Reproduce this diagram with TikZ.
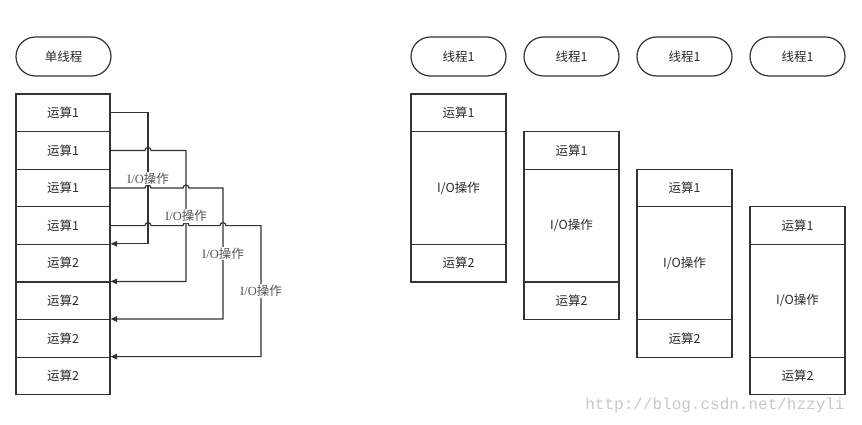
\documentclass[tikz,border=0pt]{standalone}
\usepackage{fontspec}
\setmainfont{Liberation Serif}
\newfontfamily\cjk{Noto Sans CJK SC}
\newfontfamily\wmfont{Liberation Mono}
\usetikzlibrary{arrows.meta,calc}
\definecolor{ln}{HTML}{333333}
\definecolor{tx}{HTML}{2A2A2A}
\definecolor{lab}{HTML}{555555}
\definecolor{wm}{HTML}{C8C8C8}
\begin{document}
\begin{tikzpicture}[x=1pt,y=1pt,
  box/.style={draw=ln, line width=1.2pt, minimum width=94pt, minimum height=37.6pt, inner sep=0pt, text=tx, font=\cjk\fontsize{12.5}{15}\selectfont},
  pill/.style={box, rounded corners=19.5pt, minimum height=39pt, minimum width=95pt},
  conn/.style={draw=ln, line width=1.2pt, -{Triangle[length=6.5pt,width=5.5pt]}},
  iolab/.style={fill=white, inner sep=1pt, text=lab, font=\fontsize{12.5}{15}\selectfont}]
\useasboundingbox (0,0) rectangle (862,424);
% single thread
\node[pill] (st) at (63.5,367.5) {单线程};
\foreach \i in {1,...,8}{
  \pgfmathsetmacro{\yy}{424-(94+37.6*(\i-0.5))}
  \ifnum\i<5
    \node[box] (b\i) at (63,\yy) {运算1};
  \else
    \node[box] (b\i) at (63,\yy) {运算2};
  \fi
}
\coordinate (v1) at (148,0);
\coordinate (v2) at (186,0);
\coordinate (v3) at (223,0);
\coordinate (v4) at (261,0);
\draw[conn] (b1.east) -- (b1.east -| v1) |- (b5.north east);
\draw[conn] (b2.east) -- ($(b2.east -| v1)+(-3,0)$) arc[start angle=180,end angle=0,radius=3pt]
  -- (b2.east -| v2) |- (b6.north east);
\draw[conn] (b3.east) -- ($(b3.east -| v1)+(-3,0)$) arc[start angle=180,end angle=0,radius=3pt]
  -- ($(b3.east -| v2)+(-3,0)$) arc[start angle=180,end angle=0,radius=3pt]
  -- (b3.east -| v3) |- (b7.north east);
\draw[conn] (b4.east) -- ($(b4.east -| v1)+(-3,0)$) arc[start angle=180,end angle=0,radius=3pt]
  -- ($(b4.east -| v2)+(-3,0)$) arc[start angle=180,end angle=0,radius=3pt]
  -- ($(b4.east -| v3)+(-3,0)$) arc[start angle=180,end angle=0,radius=3pt]
  -- (b4.east -| v4) |- (b8.north east);
\node[iolab] (l1) at ($(b1.east -| v1)!0.5!(b5.north east -| v1)$) {I/O{\cjk 操作}};
\node[iolab] (l2) at ($(b2.east -| v2)!0.5!(b6.north east -| v2)$) {I/O{\cjk 操作}};
\node[iolab] (l3) at ($(b3.east -| v3)!0.5!(b7.north east -| v3)$) {I/O{\cjk 操作}};
\node[iolab] (l4) at ($(b4.east -| v4)!0.5!(b8.north east -| v4)$) {I/O{\cjk 操作}};
% multi thread
\foreach \k in {0,1,2,3}{
  \pgfmathsetmacro{\xx}{458.5+113*\k}
  \pgfmathsetmacro{\yt}{330-37.6*\k}
  \node[pill] (t\k) at (\xx,367.5) {线程1};
  \node[box, minimum width=95pt] (r\k a) at (\xx,\yt-18.8) {运算1};
  \node[box, minimum width=95pt, minimum height=112.8pt] (r\k b) at (\xx,\yt-94) {I/O操作};
  \node[box, minimum width=95pt] (r\k c) at (\xx,\yt-169.2) {运算2};
}
\node[text=wm, font=\wmfont\fontsize{16}{18}\selectfont] (wmk) at (715,19) {http://blog.csdn.net/hzzyli};
\end{tikzpicture}
\end{document}
